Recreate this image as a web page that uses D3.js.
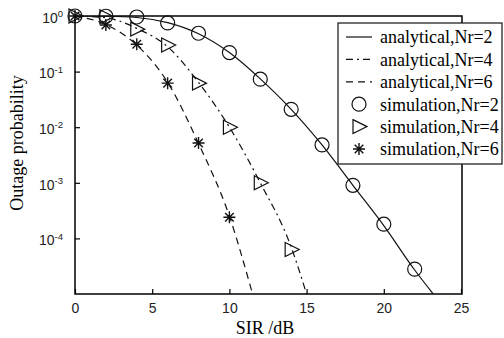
<!DOCTYPE html>
<html>
<head>
<meta charset="utf-8">
<script src="https://cdn.jsdelivr.net/npm/d3@7"></script>
<style>
  body { margin: 0; background: #fff; }
  .tick text { font-family: "Liberation Sans", Arial, sans-serif; }
</style>
</head>
<body>
<div id="chart"></div>
<script>
// simulation points
var simX2 = [0, 2, 4, 6, 8, 10, 12, 14, 16, 18, 20, 22];
var simY2 = [1, 0.99, 0.96, 0.75, 0.49, 0.22, 0.073, 0.021, 0.0048, 0.0009, 0.00018, 0.000028];
var simX4 = [0, 2, 4, 6, 8, 10, 12, 14];
var simY4 = [1, 0.97, 0.58, 0.30, 0.062, 0.010, 0.0010, 0.000063];
var simX6 = [0, 2, 4, 6, 8, 10];
var simY6 = [1, 0.69, 0.31, 0.062, 0.0052, 0.00024];

// analytical curves
var anaX2 = [0, 2, 4, 6, 8, 10, 12, 14, 16, 18, 20, 22, 23.2];
var anaY2 = [1, 0.99, 0.94, 0.76, 0.48, 0.22, 0.074, 0.021, 0.0048, 0.0009, 0.00017, 0.000027, 0.00001];
var anaX4 = [0, 2, 4, 6, 8, 10, 12, 14, 15];
var anaY4 = [1, 0.93, 0.60, 0.28, 0.064, 0.010, 0.0010, 0.00007, 0.00001];
var anaX6 = [0, 2, 4, 6, 8, 10, 11.5];
var anaY6 = [1, 0.70, 0.30, 0.064, 0.0051, 0.00025, 0.00001];

var xTicks = [0, 5, 10, 15, 20, 25];
var yTicks = [1, 1e-1, 1e-2, 1e-3, 1e-4];
var yExp = ["0", "-1", "-2", "-3", "-4"];
var legendLabels = ["analytical,Nr=2", "analytical,Nr=4", "analytical,Nr=6",
                    "simulation,Nr=2", "simulation,Nr=4", "simulation,Nr=6"];

var W = 504, H = 338;
var pL = 75, pR = 462, pT = 16, pB = 294;

var svg = d3.select("#chart").append("svg")
    .attr("width", W).attr("height", H);

var x = d3.scaleLinear().domain([0, 25]).range([pL, 461]);
var y = d3.scaleLog().domain([1e-5, 1]).range([pB, pT]);

svg.append("defs").append("clipPath").attr("id", "clip")
  .append("rect").attr("x", pL).attr("y", pT)
  .attr("width", pR - pL).attr("height", pB - pT);

// frame
svg.append("rect")
    .attr("x", pL).attr("y", pT)
    .attr("width", pR - pL).attr("height", pB - pT)
    .attr("fill", "none").attr("stroke", "#000").attr("stroke-width", 1.5);

// x axis, ticks pointing in
var gx = svg.append("g")
    .attr("transform", "translate(0," + pB + ")")
    .call(d3.axisBottom(x).tickValues(xTicks).tickSizeInner(-5).tickSizeOuter(0).tickPadding(9));
gx.select(".domain").remove();
gx.selectAll("line").attr("stroke-width", 1.2);
gx.selectAll("text").attr("font-size", 14).attr("fill", "#222");

// y axis
var gy = svg.append("g")
    .attr("transform", "translate(" + pL + ",0)")
    .call(d3.axisLeft(y).tickValues(yTicks).tickSizeInner(-5).tickSizeOuter(0).tickPadding(12).tickFormat(""));
gy.select(".domain").remove();
gy.selectAll("line").attr("stroke-width", 1.2);
gy.selectAll(".tick").each(function(d, i) {
  var t = d3.select(this).select("text")
      .attr("font-size", 14).attr("fill", "#222").attr("dy", "0.45em");
  t.text("");
  t.append("tspan").text("10");
  t.append("tspan").attr("font-size", 9.5).attr("dy", "-0.6em").text(yExp[i]);
});

// axis titles
var serif = "'Liberation Serif', 'Times New Roman', serif";
svg.append("text")
    .attr("x", 265).attr("y", 334)
    .attr("text-anchor", "middle")
    .attr("font-family", serif).attr("font-size", 18)
    .text("SIR /dB");
svg.append("text")
    .attr("transform", "translate(23,143) rotate(-90)")
    .attr("text-anchor", "middle")
    .attr("font-family", serif).attr("font-size", 18)
    .text("Outage probability");

// curves
var line = d3.line()
    .x(function(d) { return x(d[0]); })
    .y(function(d) { return y(d[1]); })
    .curve(d3.curveMonotoneX);

var curves = [
  {xs: anaX2, ys: anaY2, dash: null},
  {xs: anaX4, ys: anaY4, dash: "7,4,2,4"},
  {xs: anaX6, ys: anaY6, dash: "7,5"}
];
var plot = svg.append("g").attr("clip-path", "url(#clip)");
curves.forEach(function(c) {
  plot.append("path")
      .datum(d3.zip(c.xs, c.ys))
      .attr("d", line)
      .attr("fill", "none")
      .attr("stroke", "#111")
      .attr("stroke-width", 1.2)
      .attr("stroke-dasharray", c.dash);
});

// markers
function circleMark(g) {
  g.append("circle").attr("r", 7).attr("fill", "none").attr("stroke", "#111").attr("stroke-width", 1.2);
}
function triMark(g) {
  g.append("path").attr("d", "M-6,-7L8,0L-6,7Z")
      .attr("fill", "none").attr("stroke", "#111").attr("stroke-width", 1.2);
}
function starMark(g) {
  g.append("path").attr("d", "M-6,0H6M0,-6V6M-4.3,-4.3L4.3,4.3M-4.3,4.3L4.3,-4.3")
      .attr("fill", "none").attr("stroke", "#111").attr("stroke-width", 1.4);
}

var sims = [
  {xs: simX2, ys: simY2, mark: circleMark},
  {xs: simX4, ys: simY4, mark: triMark},
  {xs: simX6, ys: simY6, mark: starMark}
];
sims.forEach(function(s) {
  svg.append("g").selectAll("g")
      .data(d3.zip(s.xs, s.ys))
      .enter().append("g")
      .attr("transform", function(d) { return "translate(" + x(d[0]) + "," + y(d[1]) + ")"; })
      .each(function() { s.mark(d3.select(this)); });
});

// legend
var lg = svg.append("g");
lg.append("rect")
    .attr("x", 338).attr("y", 23).attr("width", 164).attr("height", 141)
    .attr("fill", "#fff").attr("stroke", "#111").attr("stroke-width", 1.2);
var rowY = d3.scaleLinear().domain([0, 5]).range([37, 149]);
var dashes = [null, "7,4,2,4", "7,5"];
var marks = [circleMark, triMark, starMark];
legendLabels.forEach(function(lab, i) {
  var yy = rowY(i);
  if (i < 3) {
    lg.append("line")
        .attr("x1", 346).attr("x2", 372).attr("y1", yy).attr("y2", yy)
        .attr("stroke", "#111").attr("stroke-width", 1.2)
        .attr("stroke-dasharray", dashes[i]);
  } else {
    var m = lg.append("g").attr("transform", "translate(359," + yy + ")");
    marks[i - 3](m);
  }
  lg.append("text")
      .attr("x", 380).attr("y", yy).attr("dy", "0.35em")
      .attr("font-family", serif).attr("font-size", 18)
      .text(lab);
});
</script>
</body>
</html>
